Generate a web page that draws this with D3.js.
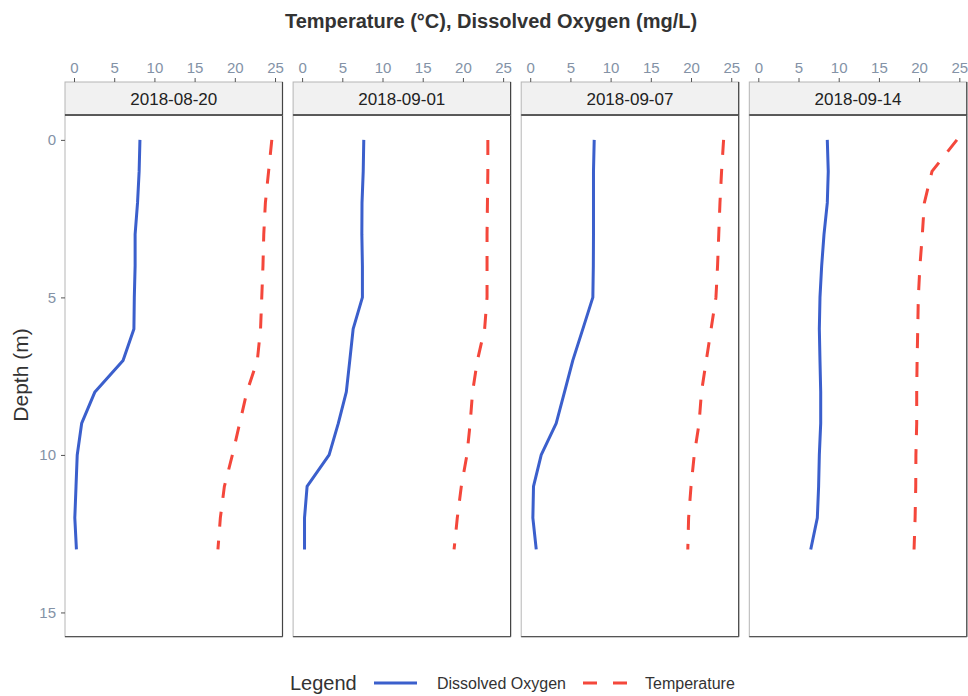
<!DOCTYPE html>
<html><head><meta charset="utf-8">
<script src="https://cdn.jsdelivr.net/npm/d3@7"></script>
<style>body{margin:0;background:#fff;font-family:"Liberation Sans",Arial,sans-serif}</style>
</head><body><div id="chart"></div>
<script>
const dates = ["2018-08-20","2018-09-01","2018-09-07","2018-09-14"];
const depths = [0,1,2,3,4,5,6,7,8,9,10,11,12,13];
const oxygen0820 = [8.2,8.1,7.9,7.6,7.6,7.5,7.45,6.1,2.6,0.95,0.4,0.25,0.1,0.3];
const temp0820   = [24.6,24.2,23.8,23.6,23.5,23.35,23.2,22.8,21.5,20.6,19.7,18.7,18.2,17.9];
const oxygen0901 = [7.67,7.6,7.45,7.43,7.5,7.5,6.35,5.93,5.5,4.5,3.36,0.62,0.3,0.3];
const temp0901   = [23.1,23.1,23.05,23.0,23.0,23.0,22.7,21.8,21.2,20.9,20.5,19.8,19.3,18.9];
const oxygen0907 = [7.96,7.87,7.87,7.87,7.85,7.79,6.55,5.3,4.27,3.23,1.37,0.41,0.33,0.75];
const temp0907   = [24.05,23.8,23.6,23.45,23.3,23.1,22.5,21.9,21.3,21.0,20.4,20.0,19.7,19.6];
const oxygen0914 = [8.58,8.7,8.58,8.17,7.88,7.67,7.59,7.67,7.76,7.76,7.59,7.5,7.34,6.52];
const temp0914   = [24.7,21.6,20.65,20.4,20.1,19.9,19.83,19.75,19.7,19.7,19.6,19.58,19.5,19.37];
const xTicks = [0,5,10,15,20,25];
const yTicks = [0,5,10,15];
const seriesNames = ["Dissolved Oxygen","Temperature"];

const oxygen = [oxygen0820, oxygen0901, oxygen0907, oxygen0914];
const temp = [temp0820, temp0901, temp0907, temp0914];

const W = 968, H = 696;
const svg = d3.select("#chart").append("svg").attr("width", W).attr("height", H);

const panelTop = 115, panelBottom = 636.7, stripTop = 82;
const firstLeft = 65, panelW = 217.5, gap = 10.6;
const blue = "#3b5fcc", red = "#f4473b";
const tickCol = "#8392a6";

const y = d3.scaleLinear().domain([-0.79, 15.77]).range([panelTop, panelBottom]);

dates.forEach((d, i) => {
  const left = firstLeft + i * (panelW + gap);
  const x = d3.scaleLinear().domain([-1.12, 25.93]).range([left, left + panelW]);
  const g = svg.append("g");

  g.append("rect").attr("x", left).attr("y", panelTop).attr("width", panelW)
    .attr("height", panelBottom - panelTop).attr("fill", "#fff").attr("stroke", "#b5b5b5").attr("stroke-width", 1);
  g.append("line").attr("x1", left + panelW).attr("x2", left + panelW).attr("y1", panelTop).attr("y2", panelBottom)
    .attr("stroke", "#444").attr("stroke-width", 1.2);
  g.append("line").attr("x1", left).attr("x2", left + panelW).attr("y1", panelBottom).attr("y2", panelBottom)
    .attr("stroke", "#555").attr("stroke-width", 1.2);

  g.append("rect").attr("x", left).attr("y", stripTop).attr("width", panelW).attr("height", panelTop - stripTop)
    .attr("fill", "#f1f1f1").attr("stroke", "#b5b5b5").attr("stroke-width", 1);
  g.append("line").attr("x1", left).attr("x2", left + panelW).attr("y1", panelTop).attr("y2", panelTop)
    .attr("stroke", "#333").attr("stroke-width", 1.5);
  g.append("line").attr("x1", left + panelW).attr("x2", left + panelW).attr("y1", stripTop).attr("y2", panelTop)
    .attr("stroke", "#444").attr("stroke-width", 1.2);
  g.append("text").attr("x", left + panelW / 2).attr("y", 99).attr("text-anchor", "middle")
    .attr("dominant-baseline", "central").attr("font-size", 17).attr("fill", "#222").text(d);

  const ax = g.append("g").attr("transform", `translate(0,${stripTop})`)
    .call(d3.axisTop(x).tickValues(xTicks).tickSize(4).tickPadding(5));
  ax.select(".domain").remove();
  ax.selectAll(".tick line").attr("stroke", "#555");
  ax.selectAll(".tick text").attr("fill", tickCol).attr("font-size", 15)
    .attr("font-family", "Liberation Sans, Arial, sans-serif");

  const line = d3.line().x(v => x(v[0])).y(v => y(v[1]));
  const oxPts = depths.map((dp, k) => [oxygen[i][k], dp]);
  const tPts = depths.map((dp, k) => [temp[i][k], dp]);
  g.append("path").attr("d", line(oxPts)).attr("fill", "none").attr("stroke", blue)
    .attr("stroke-width", 3).attr("stroke-linejoin", "round");
  g.append("path").attr("d", line(tPts)).attr("fill", "none").attr("stroke", red)
    .attr("stroke-width", 3).attr("stroke-dasharray", "15,14");
});

const ay = svg.append("g").attr("transform", `translate(${firstLeft},0)`)
  .call(d3.axisLeft(y).tickValues(yTicks).tickSize(4).tickPadding(5));
ay.select(".domain").remove();
ay.selectAll(".tick line").attr("stroke", "#555");
ay.selectAll(".tick text").attr("fill", tickCol).attr("font-size", 15)
  .attr("font-family", "Liberation Sans, Arial, sans-serif");

svg.append("text").attr("transform", `translate(28,375) rotate(-90)`)
  .attr("text-anchor", "middle").attr("font-size", 21).attr("fill", "#333").text("Depth (m)");

svg.append("text").attr("x", 491).attr("y", 28).attr("text-anchor", "middle")
  .attr("font-size", 20).attr("font-weight", "bold").attr("fill", "#333")
  .text("Temperature (\u00B0C), Dissolved Oxygen (mg/L)");

const lg = svg.append("g");
lg.append("text").attr("x", 290).attr("y", 690).attr("font-size", 20).attr("fill", "#333").text("Legend");
lg.append("line").attr("x1", 374).attr("x2", 417).attr("y1", 683).attr("y2", 683)
  .attr("stroke", blue).attr("stroke-width", 3);
lg.append("text").attr("x", 437).attr("y", 689).attr("font-size", 16).attr("fill", "#333").text(seriesNames[0]);
lg.append("line").attr("x1", 583).attr("x2", 627).attr("y1", 683).attr("y2", 683)
  .attr("stroke", red).attr("stroke-width", 3).attr("stroke-dasharray", "14,16");
lg.append("text").attr("x", 645).attr("y", 689).attr("font-size", 16).attr("fill", "#333").text(seriesNames[1]);
</script>
</body></html>
